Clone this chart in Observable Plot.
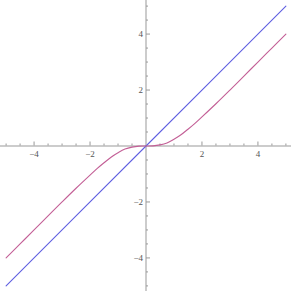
<!DOCTYPE html>
<html><head><meta charset="utf-8">
<script src="https://cdn.jsdelivr.net/npm/d3@7"></script>
<script src="https://cdn.jsdelivr.net/npm/@observablehq/plot@0.6"></script>
<style>html,body{margin:0;padding:0;background:#fff;}</style>
</head><body><div id="chart"></div>
<script>
// Blue series (straight line)
const blueX = [-5, -2.5, 0, 2.5, 5];
const blueY = [-5, -2.5, 0, 2.5, 5];
// Red series
const redX = [-5, -4.5, -4, -3.5, -3, -2.5, -2, -1.75, -1.5, -1.25, -1, -0.75, -0.5, -0.25, 0, 0.25, 0.5, 0.75, 1, 1.25, 1.5, 1.75, 2, 2.5, 3, 3.5, 4, 4.5, 5];
const redY = [-4.0, -3.5, -3.0, -2.5, -2.0, -1.51, -1.04, -0.81, -0.6, -0.4, -0.24, -0.11, -0.04, -0.005, 0, 0.005, 0.04, 0.11, 0.24, 0.4, 0.6, 0.81, 1.04, 1.51, 2.0, 2.5, 3.0, 3.5, 4.0];
// Tick labels
const xTickVals = [-4, -2, 2, 4];
const yTickVals = [-4, -2, 2, 4];
const minorVals = d3.range(-5, 5.01, 0.5).filter(v => Math.abs(v) > 1e-9);

const blue = blueX.map((x, i) => ({x, y: blueY[i]}));
const red = redX.map((x, i) => ({x, y: redY[i]}));
const lab = v => (v < 0 ? "\u2212" : "") + Math.abs(v);

const axisColor = "#999999";
const k = 10.4 / 291; // data units per pixel
const plot = Plot.plot({
  width: 291, height: 291,
  marginTop: 0, marginBottom: 0, marginLeft: 0, marginRight: 0,
  x: {domain: [-5.2, 5.2], axis: null},
  y: {domain: [-5.2, 5.2], axis: null},
  style: {background: "#fff"},
  marks: [
    Plot.ruleY([0], {stroke: axisColor, strokeWidth: 1}),
    Plot.ruleX([0], {stroke: axisColor, strokeWidth: 1}),
    Plot.ruleX(minorVals, {x: d => d, y1: 0, y2: d => (Number.isInteger(d/2) ? 4 : 2) * k, stroke: axisColor}),
    Plot.link(minorVals, {x1: 0, x2: d => (Number.isInteger(d/2) ? 4 : 2) * k, y1: d => d, y2: d => d, stroke: axisColor}),
    Plot.text(xTickVals, {x: d => d, y: 0, text: lab, dy: 8, fontSize: 9, fill: "#555", fontFamily: "Liberation Serif"}),
    Plot.text(yTickVals, {x: 0, y: d => d, text: lab, dx: -3, textAnchor: "end", fontSize: 9, fill: "#555", fontFamily: "Liberation Serif"}),
    Plot.line(blue, {x: "x", y: "y", stroke: "rgb(95,95,225)", strokeWidth: 1.1}),
    Plot.line(red, {x: "x", y: "y", stroke: "rgb(195,95,150)", strokeWidth: 1.1, curve: "catmull-rom"})
  ]
});
document.getElementById("chart").appendChild(plot);
</script>
</body></html>
